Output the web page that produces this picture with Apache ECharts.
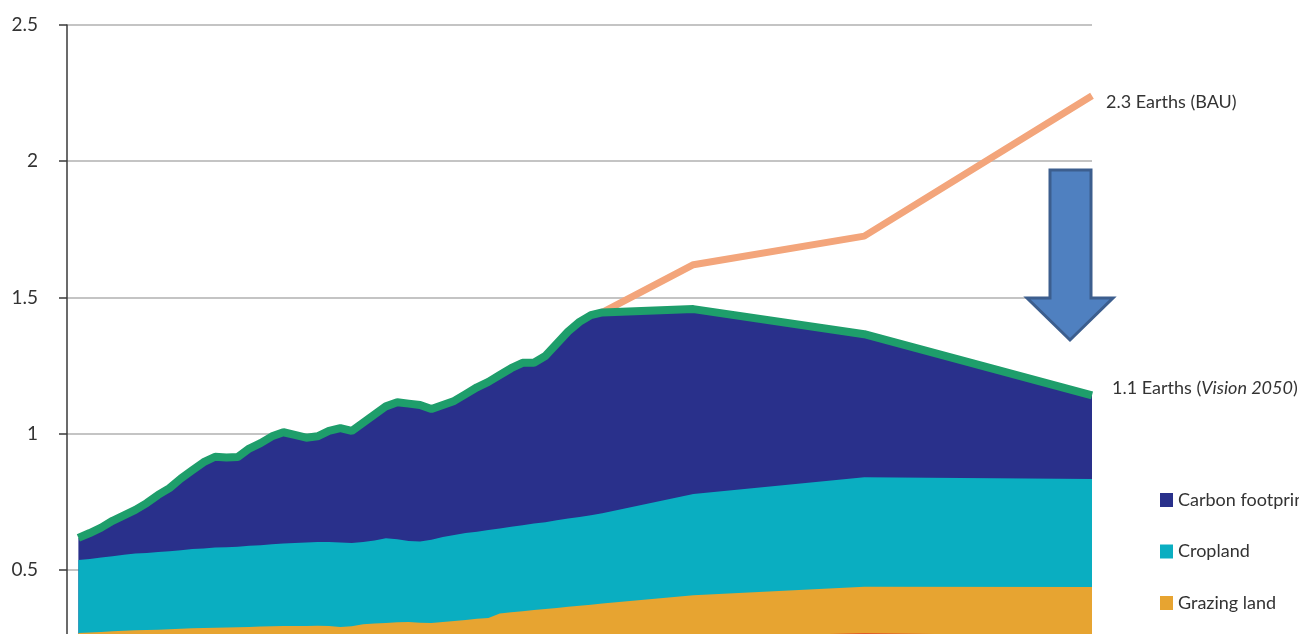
<!DOCTYPE html>
<html><head><meta charset="utf-8">
<script src="https://cdn.jsdelivr.net/npm/echarts@6/dist/echarts.min.js"></script>
<style>html,body{margin:0;padding:0;background:#fff}#c{width:1299px;height:634px}</style>
</head><body><div id="c"></div>
<script>
// Years: annual history 1961-2007, then scenario points
const years = [1961,1962,1963,1964,1965,1966,1967,1968,1969,1970,
  1971,1972,1973,1974,1975,1976,1977,1978,1979,1980,
  1981,1982,1983,1984,1985,1986,1987,1988,1989,1990,
  1991,1992,1993,1994,1995,1996,1997,1998,1999,2000,
  2001,2002,2003,2004,2005,2006,2007,2015,2030,2050];

// Cumulative top of each band (number of Earths). Top of carbon band = whole footprint (Vision 2050 path)
const carbonTop = [0.617,0.635,0.655,0.68,0.70,0.72,0.745,0.775,0.80,0.835,
  0.865,0.895,0.915,0.912,0.914,0.945,0.965,0.99,1.005,0.995,
  0.985,0.99,1.01,1.02,1.01,1.04,1.07,1.10,1.115,1.11,
  1.105,1.09,1.105,1.12,1.145,1.17,1.19,1.215,1.24,1.26,
  1.26,1.285,1.33,1.375,1.41,1.435,1.445,1.457,1.365,1.14];

const croplandTop = [0.536,0.54,0.545,0.55,0.555,0.56,0.562,0.565,0.568,0.572,
  0.576,0.578,0.582,0.583,0.585,0.588,0.59,0.594,0.597,0.598,
  0.6,0.602,0.602,0.6,0.598,0.602,0.608,0.616,0.612,0.606,
  0.604,0.61,0.62,0.628,0.635,0.64,0.646,0.652,0.658,0.664,
  0.67,0.675,0.682,0.688,0.694,0.70,0.708,0.778,0.84,0.833];

const grazingTop = [0.268,0.27,0.272,0.274,0.276,0.278,0.279,0.28,0.282,0.284,
  0.285,0.286,0.287,0.288,0.289,0.29,0.292,0.293,0.294,0.294,
  0.294,0.295,0.294,0.29,0.293,0.30,0.303,0.305,0.307,0.308,
  0.306,0.305,0.308,0.312,0.316,0.32,0.323,0.34,0.344,0.348,
  0.352,0.356,0.36,0.364,0.368,0.372,0.376,0.407,0.438,0.437];

// Lower bands (mostly below the visible frame)
const forestTop = [0.200,0.201,0.203,0.204,0.205,0.207,0.208,0.209,0.210,0.212,
  0.213,0.214,0.215,0.216,0.216,0.217,0.218,0.219,0.220,0.220,
  0.221,0.221,0.222,0.223,0.224,0.225,0.226,0.227,0.228,0.228,
  0.229,0.229,0.230,0.231,0.232,0.233,0.234,0.235,0.236,0.236,
  0.237,0.238,0.239,0.240,0.241,0.242,0.243,0.250,0.268,0.256];
const fishingTop = [0.090,0.091,0.092,0.093,0.094,0.095,0.096,0.097,0.098,0.099,
  0.100,0.101,0.101,0.102,0.102,0.103,0.104,0.104,0.105,0.105,
  0.106,0.106,0.107,0.108,0.108,0.109,0.110,0.110,0.111,0.111,
  0.112,0.112,0.112,0.113,0.113,0.114,0.114,0.115,0.115,0.116,
  0.116,0.117,0.117,0.118,0.118,0.119,0.119,0.121,0.124,0.122];
const builtUpTop = [0.035,0.035,0.036,0.036,0.037,0.037,0.038,0.038,0.039,0.039,
  0.040,0.040,0.041,0.041,0.042,0.042,0.043,0.043,0.044,0.044,
  0.045,0.045,0.046,0.046,0.047,0.047,0.048,0.048,0.049,0.049,
  0.050,0.050,0.051,0.051,0.052,0.052,0.053,0.053,0.054,0.054,
  0.055,0.055,0.056,0.056,0.057,0.057,0.058,0.060,0.063,0.062];

// Business-as-usual projection
const bauYears = [2007,2015,2030,2050];
const bauValues = [1.445,1.62,1.725,2.24];

const yTicks = [0,0.5,1,1.5,2,2.5];
const legendNames = ['Carbon footprint','Cropland','Grazing land','Forest','Fishing grounds','Built-up land'];
const bauLabel = '2.3 Earths (BAU)';
const visionLabel = '1.1 Earths ({i|Vision 2050})';

const FONT = "Lato, 'Open Sans', sans-serif";

function pairs(vals){ return years.map((y,i)=>[y, vals[i]]); }
function band(name, vals, color, extra){
  return Object.assign({
    name, type:'line', data:pairs(vals), symbol:'none', smooth:false,
    itemStyle:{color}, lineStyle:{width:0, color}, areaStyle:{color, opacity:1},
    emphasis:{disabled:true}
  }, extra || {});
}

const chart = echarts.init(document.getElementById('c'), null, {renderer:'canvas'});
chart.setOption({
  animation:false,
  backgroundColor:'#fff',
  grid:{left:67, right:207, top:25, bottom:-72, containLabel:false, outerBoundsMode:'none'},
  xAxis:{type:'value', min:1960, max:2050, show:false},
  yAxis:{type:'value', min:yTicks[0], max:yTicks[yTicks.length-1], interval:0.5,
    axisLine:{show:true, lineStyle:{color:'#3a3a3a', width:1.5}},
    axisTick:{show:true, length:8, lineStyle:{color:'#3a3a3a', width:1.5}},
    axisLabel:{margin:29, color:'#333', fontSize:19, fontFamily:FONT},
    splitLine:{lineStyle:{color:'#c4c4c4', width:2}}
  },
  legend:{orient:'vertical', left:1160, top:490, padding:0, icon:'rect', itemWidth:13, itemHeight:14,
    itemGap:31.5, data:legendNames,
    textStyle:{color:'#333', fontSize:18, fontFamily:FONT, lineHeight:20}},
  series:[
    band('Carbon footprint', carbonTop, '#29308b', {
      lineStyle:{width:8, color:'#1e9e6b'},
      endLabel:{show:true, formatter:visionLabel, distance:20, offset:[0,-7],
        color:'#333', fontSize:18, fontFamily:FONT,
        rich:{i:{fontStyle:'italic', color:'#333', fontSize:18, fontFamily:FONT}}}
    }),
    band('Cropland', croplandTop, '#0aaec1'),
    band('Grazing land', grazingTop, '#e7a431'),
    band('Forest', forestTop, '#e05a2a'),
    band('Fishing grounds', fishingTop, '#5f8fc9'),
    band('Built-up land', builtUpTop, '#8a5a32'),
    {name:'BAU', type:'line', data:bauYears.map((y,i)=>[y,bauValues[i]]), symbol:'none',
      lineStyle:{width:7, color:'#f3a57b'}, itemStyle:{color:'#f3a57b'}, z:1,
      emphasis:{disabled:true},
      endLabel:{show:true, formatter:bauLabel, distance:14, offset:[0,6],
        color:'#333', fontSize:18, fontFamily:FONT}}
  ],
  graphic:[{
    type:'polygon', z:100,
    shape:{points:[[1050,170],[1091,170],[1091,298],[1113,298],[1070,340],[1027,298],[1050,298]]},
    style:{fill:'#4f80c0', stroke:'#3c5e8e', lineWidth:3}
  }]
});
</script></body></html>
